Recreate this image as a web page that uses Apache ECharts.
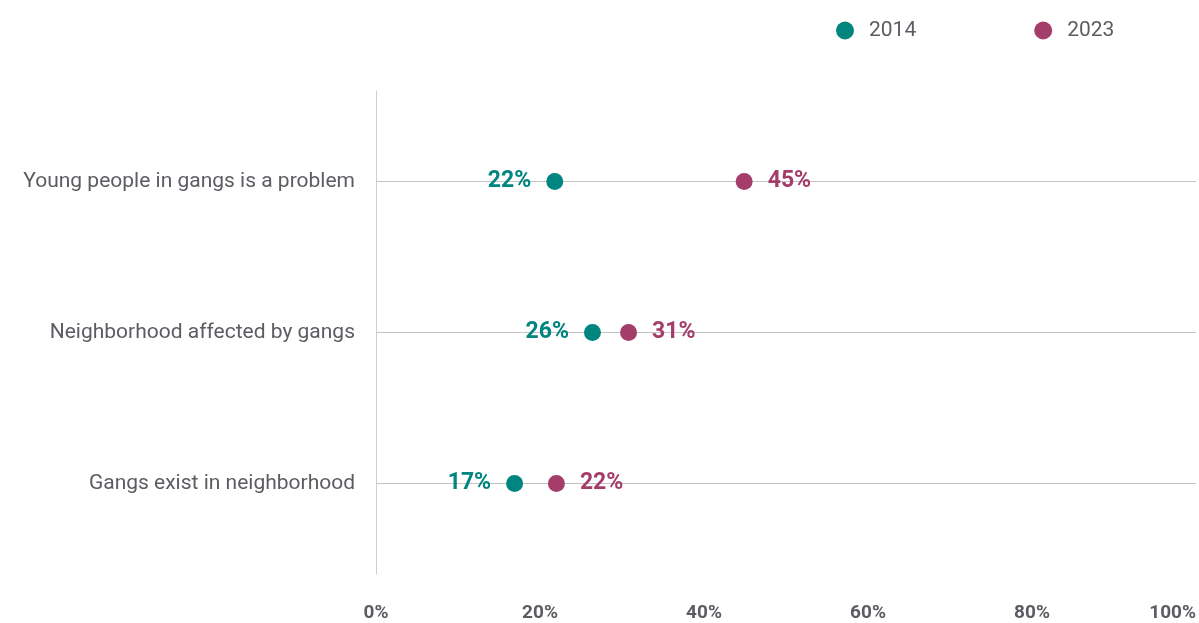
<!DOCTYPE html>
<html>
<head>
<meta charset="utf-8">
<title>Gangs in neighborhood 2014 vs 2023</title>
<script src="https://cdn.jsdelivr.net/npm/echarts@6/dist/echarts.min.js"></script>
<style>
  html, body { margin: 0; padding: 0; background: #fff; }
  #main { width: 1199px; height: 623px; }
</style>
</head>
<body>
<div id="main"></div>
<script>
// categories, top to bottom
var categories = [
  "Young people in gangs is a problem",
  "Neighborhood affected by gangs",
  "Gangs exist in neighborhood"
];
var values2014 = [21.8, 26.4, 16.9];
var values2023 = [44.9, 30.8, 22.0];
var xTicks = [0, 20, 40, 60, 80, 100];

var teal = "#00857f";
var berry = "#a53d6b";
var grey = "#5b5d62";

function toPoints(arr) {
  return arr.map(function (v, i) { return [v, i]; });
}

var myChart = echarts.init(document.getElementById("main"), null, { renderer: "canvas" });

var option = {
  backgroundColor: "#fff",
  animation: false,
  textStyle: { fontFamily: "Roboto" },
  legend: {
    data: ["2014", "2023"],
    left: 831,
    top: 15,
    icon: "circle",
    itemWidth: 18,
    itemHeight: 18,
    itemGap: 118,
    textStyle: { fontSize: 21, color: grey, fontFamily: "Roboto", padding: [0, 0, 0, 10] }
  },
  grid: { left: 376, right: 2, top: 91, bottom: 49 },
  xAxis: {
    type: "value",
    min: 0,
    max: 100,
    interval: 20,
    axisLine: { show: false },
    axisTick: { show: false },
    splitLine: { show: false },
    axisLabel: {
      margin: 30,
      fontSize: 19,
      fontWeight: "bold",
      color: grey,
      fontFamily: "Roboto",
      alignMaxLabel: "right",
      customValues: xTicks,
      formatter: function (v) { return v + "%"; }
    }
  },
  yAxis: {
    type: "value",
    inverse: true,
    min: -0.6,
    max: 2.6,
    axisLine: { show: true, lineStyle: { color: "#cfcfcf", width: 1 } },
    axisTick: { show: false },
    splitLine: { show: false },
    axisLabel: {
      margin: 21,
      fontSize: 21,
      color: grey,
      fontFamily: "Roboto",
      customValues: [0, 1, 2],
      formatter: function (v) { return categories[Math.round(v)] || ""; }
    }
  },
  series: [
    {
      name: "2014",
      type: "scatter",
      symbolSize: 17,
      itemStyle: { color: teal, opacity: 1 },
      data: toPoints(values2014),
      z: 3,
      label: {
        show: true,
        position: "left",
        distance: 15,
        fontSize: 23,
        fontWeight: "bold",
        color: teal,
        fontFamily: "Roboto",
        formatter: function (p) { return Math.round(p.value[0]) + "%"; }
      },
      markLine: {
        silent: true,
        symbol: "none",
        label: { show: false },
        lineStyle: { color: "#c4c4c4", width: 1, type: "solid" },
        data: categories.map(function (c, i) { return { yAxis: i }; }),
        z: 1
      }
    },
    {
      name: "2023",
      type: "scatter",
      symbolSize: 17,
      itemStyle: { color: berry, opacity: 1 },
      data: toPoints(values2023),
      z: 3,
      label: {
        show: true,
        position: "right",
        distance: 15,
        fontSize: 23,
        fontWeight: "bold",
        color: berry,
        fontFamily: "Roboto",
        formatter: function (p) { return Math.round(p.value[0]) + "%"; }
      }
    }
  ]
};

myChart.setOption(option);
window.addEventListener("resize", myChart.resize);
</script>
</body>
</html>
